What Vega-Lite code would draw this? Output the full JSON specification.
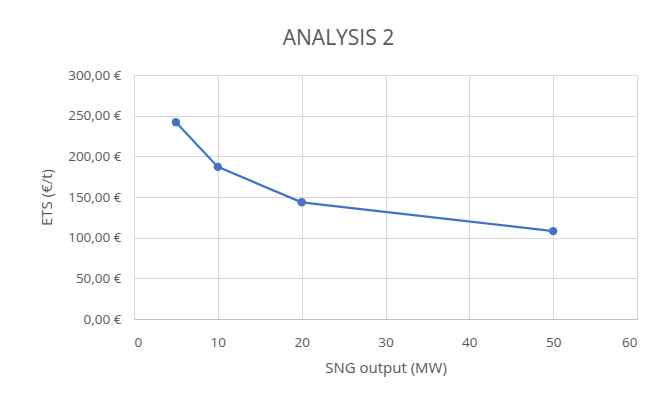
{
  "$schema": "https://vega.github.io/schema/vega-lite/v6.json",
  "width": 503,
  "height": 244,
  "autosize": {"type": "none"},
  "padding": {"left": 134, "top": 75, "right": 15, "bottom": 78},
  "background": "white",
  "title": {
    "text": "ANALYSIS 2",
    "font": "Open Sans",
    "fontSize": 21,
    "fontWeight": "normal",
    "color": "#595959",
    "offset": 19,
    "dx": -47
  },
  "data": {
    "values": [
      {"mw": 5, "ets": 242},
      {"mw": 10, "ets": 187},
      {"mw": 20, "ets": 143.5},
      {"mw": 50, "ets": 108}
    ]
  },
  "encoding": {
    "x": {
      "field": "mw",
      "type": "quantitative",
      "scale": {"domain": [0, 60], "nice": false},
      "axis": {
        "title": "SNG output (MW)",
        "values": [0, 10, 20, 30, 40, 50, 60],
        "labelPadding": 16,
        "titlePadding": 12
      }
    },
    "y": {
      "field": "ets",
      "type": "quantitative",
      "scale": {"domain": [0, 300], "nice": false},
      "axis": {
        "title": "ETS (€/t)",
        "values": [0, 50, 100, 150, 200, 250, 300],
        "labelExpr": "replace(format(datum.value, '.2f'), '.', ',') + ' €'",
        "domain": false,
        "labelPadding": 13,
        "titlePadding": 13
      }
    }
  },
  "layer": [
    {"mark": {"type": "line", "color": "#4472C4", "strokeWidth": 2.25}},
    {"mark": {"type": "point", "filled": true, "color": "#4472C4", "size": 70, "opacity": 1}}
  ],
  "config": {
    "view": {"stroke": null},
    "axis": {
      "labelFont": "Open Sans",
      "titleFont": "Open Sans",
      "labelFontSize": 13.5,
      "titleFontSize": 15,
      "titleFontWeight": "normal",
      "labelColor": "#595959",
      "titleColor": "#595959",
      "gridColor": "#d9d9d9",
      "gridWidth": 1,
      "ticks": false,
      "domainColor": "#bfbfbf"
    }
  }
}
